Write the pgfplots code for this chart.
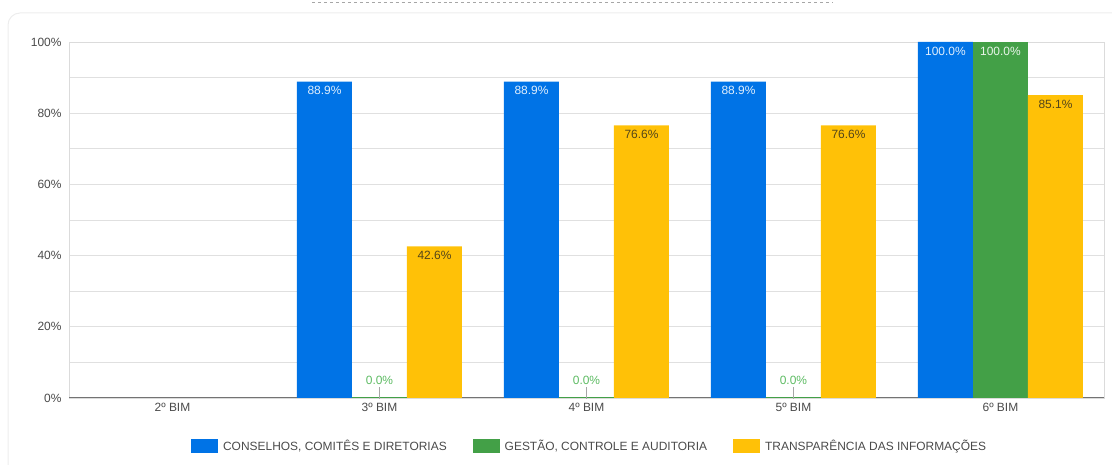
\documentclass[border=0pt]{standalone}
\usepackage{fontspec}
\setmainfont{Liberation Sans}
\usepackage{pgfplots}
\pgfplotsset{compat=1.18}
\definecolor{cblue}{HTML}{0073E6}
\definecolor{cgreen}{HTML}{43A047}
\definecolor{cyellow}{HTML}{FFC107}
\definecolor{lgreen}{HTML}{5DBB63}
\definecolor{ydark}{HTML}{54461A}
\definecolor{txt}{HTML}{4A4A4A}
\begin{document}
\begin{tikzpicture}[x=1bp,y=1bp]
\useasboundingbox (0,0) rectangle (1112,465);
\draw[black!35, dashed, line width=0.8bp] (312,463) -- (833,463);
\draw[black!7, line width=1bp, rounded corners=12bp] (8,-30) rectangle (1135,452);
\begin{axis}[
  ybar, bar width=55bp,
  at={(69bp,67bp)}, anchor=south west,
  scale only axis, width=1035bp, height=356bp,
  xmin=-0.5, xmax=4.5, ymin=0, ymax=100,
  xtick={0,...,4},
  xticklabels={2º BIM,3º BIM,4º BIM,5º BIM,6º BIM},
  ytick={0,20,...,100}, minor ytick={10,30,...,90},
  ymajorgrids, yminorgrids,
  grid style={draw=black!12, line width=0.8bp},
  minor grid style={draw=black!12, line width=0.8bp},
  axis line style={draw=black!14, line width=0.8bp},
  major tick length=0pt, minor tick length=0pt,
  /pgf/number format/assume math mode=true,
  yticklabel={\pgfmathprintnumber{\tick}\%},
  every tick label/.append style={font=\fontsize{12}{14}\selectfont, text=txt},
  yticklabel style={xshift=-4bp},
  xticklabel style={yshift=-2bp},
  legend style={at={(0.503,-0.135)}, anchor=center, draw=none, fill=none,
    legend columns=3, font=\fontsize{12}{14}\selectfont, text=txt,
    /tikz/every even column/.append style={column sep=24bp},
    /tikz/every odd column/.append style={column sep=3bp},
    legend cell align=left, inner sep=0pt},
  nodes near coords={\pgfmathprintnumber[fixed,fixed zerofill,precision=1]{\pgfplotspointmeta}\%},
  point meta=y,
  every node near coord/.append style={font=\fontsize{12}{14}\selectfont, anchor=north, inner sep=2.5bp, yshift=-2bp},
]
\draw[black!55, line width=1.3bp] (axis cs:-0.5,0) -- (axis cs:4.5,0);
\addplot[bar shift=-55bp, fill=cblue, draw=none,
  every node near coord/.append style={text=white!88!cblue},
  legend image code/.code={\fill[cblue] (0bp,-7bp) rectangle (27bp,7bp);}]
  coordinates {(1,88.9) (2,88.9) (3,88.9) (4,100)};
\addlegendentry{CONSELHOS, COMITÊS E DIRETORIAS}
\addplot[bar shift=0bp, fill=cgreen, draw=none,
  every node near coord/.append style={text=white!88!cgreen},
  legend image code/.code={\fill[cgreen] (0bp,-7bp) rectangle (27bp,7bp);}]
  coordinates {(4,100)};
\addlegendentry{GESTÃO, CONTROLE E AUDITORIA}
\addplot[bar shift=55bp, fill=cyellow, draw=none,
  every node near coord/.append style={text=ydark},
  legend image code/.code={\fill[cyellow] (0bp,-7bp) rectangle (27bp,7bp);}]
  coordinates {(1,42.6) (2,76.6) (3,76.6) (4,85.1)};
\addlegendentry{TRANSPARÊNCIA DAS INFORMAÇÕES}
\addplot[bar shift=0bp, fill=cgreen, draw=cgreen, line width=2bp, forget plot,
  nodes near coords={\pgfmathprintnumber[fixed,fixed zerofill,precision=1]{\pgfplotspointmeta}\%\\[1bp]{\color{black!35}\rule{0.9bp}{12bp}}},
  every node near coord/.append style={text=lgreen, anchor=south, align=center, inner sep=0pt, yshift=0bp}]
  coordinates {(1,0) (2,0) (3,0)};
\end{axis}
\end{tikzpicture}
\end{document}
